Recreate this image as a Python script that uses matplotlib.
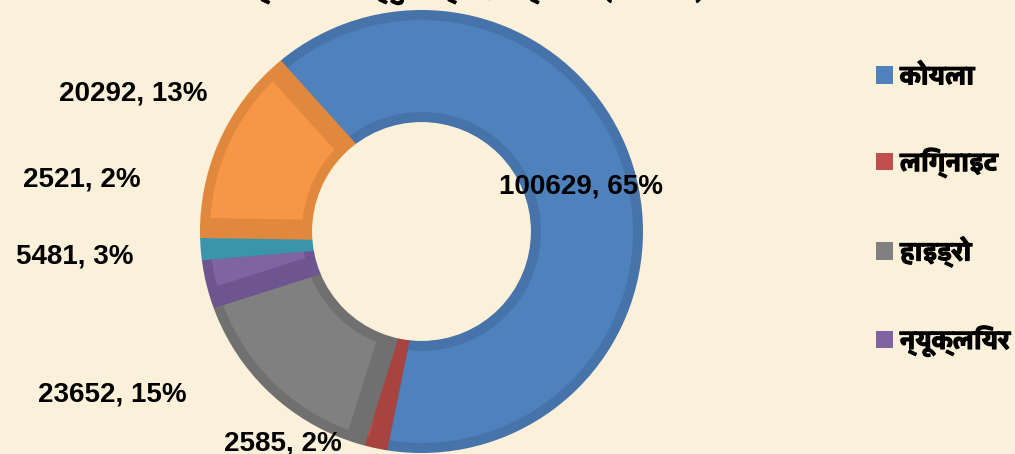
import matplotlib
matplotlib.use("Agg")
import matplotlib.pyplot as plt
import matplotlib.patheffects as pe
from matplotlib import font_manager
from matplotlib.ft2font import FT2Font
from matplotlib.patches import Patch, Wedge, Circle

# data
categories = ["कोयला", "लिग्नाइट", "हाइड्रो", "न्यूक्लियर", "गैस", "नवीकरणीय"]
values = [100629, 2585, 23652, 5481, 2521, 20292]
percents = [65, 2, 15, 3, 2, 13]
title = "भारत में स्रोतवार विद्युत उत्पादन क्षमता (मेगावाट)"

faces = ["#4f81bd", "#c0504d", "#808080", "#8064a2", "#3f9fb7", "#f79646"]
edges = ["#4673aa", "#a8443f", "#707070", "#6f5590", "#3a94ab", "#e0883e"]
bg = "#fbf0da"
hole = 0.494


def find_deva():
    found = []
    for f in font_manager.fontManager.ttflist:
        try:
            cm = FT2Font(f.fname).get_charmap()
        except Exception:
            continue
        if 0x0915 in cm:
            w = f.weight if isinstance(f.weight, int) else (700 if "bold" in str(f.weight) else 400)
            found.append((w >= 700, f.name))
    if not found:
        return None
    found.sort(reverse=True)
    return found[0][1]


deva = find_deva()
deva_fam = [deva, "Liberation Sans", "DejaVu Sans"] if deva else ["Liberation Sans", "DejaVu Sans"]
thick = [pe.withStroke(linewidth=0.9, foreground="black")]

fig = plt.figure(figsize=(10.15, 4.54), dpi=100, facecolor=bg)
# donut centre ~ (421.5, 231.5) px, outer radius ~221.5 px
ax = fig.add_axes([200/1015, 1/454, 443/1015, 443/454])
ax.set_facecolor(bg)

wedges, _ = ax.pie(values, startangle=132, counterclock=False, radius=1.0,
                   wedgeprops=dict(width=1 - hole))
for w, fc, ec in zip(wedges, faces, edges):
    w.set_facecolor(fc)
    w.set_edgecolor(ec)
    w.set_linewidth(14.4)
    w.set_joinstyle("miter")
# trim the half of the border that spills outside the ring
ax.add_patch(Wedge((0, 0), 2.5, 0, 360, width=1.5, facecolor=bg, edgecolor="none",
                   zorder=5, clip_on=False))
ax.add_patch(Circle((0, 0), hole, facecolor=bg, edgecolor="none", zorder=5, clip_on=False))
ax.set_xlim(-1, 1)
ax.set_ylim(-1, 1)
ax.set_aspect("equal")
ax.axis("off")

label_pos = [(0.72, 0.205), (-0.625, -0.955), (-1.397, -0.734),
             (-1.564, -0.111), (-1.533, 0.233), (-1.302, 0.625)]
for v, p, (x, y) in zip(values, percents, label_pos):
    ax.text(x, y, f"{v}, {p}%", ha="center", va="center", fontsize=20,
            fontweight="bold", family=["Liberation Sans", "DejaVu Sans"], zorder=6)

handles = [Patch(facecolor=fc, edgecolor="none") for fc in faces[:4]]
leg = fig.legend(handles, categories[:4], loc="upper left", bbox_to_anchor=(852/1015, 1 - 41/454),
                 frameon=False, handlelength=0.63, handleheight=0.63, handletextpad=0.25,
                 labelspacing=2.17, prop=dict(family=deva_fam, size=19.5, weight="bold"))
for t in leg.get_texts():
    t.set_path_effects(thick)

tt = fig.text(0.43, 1 + 3/454, title, ha="center", va="baseline", fontsize=20,
              fontweight="bold", family=deva_fam)
tt.set_path_effects(thick)

fig.savefig("out.png", dpi=100, facecolor=bg)
